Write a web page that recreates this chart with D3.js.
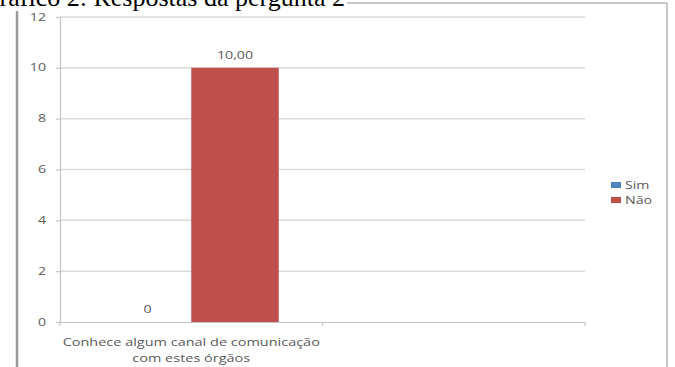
<!DOCTYPE html>
<html>
<head>
<meta charset="utf-8">
<script src="https://cdn.jsdelivr.net/npm/d3@7"></script>
<style>
  html, body { margin: 0; padding: 0; background: #fff; }
  svg { display: block; }
  .lbl { font-family: "Open Sans", "Liberation Sans", sans-serif; fill: #595959; }
</style>
</head>
<body>
<svg id="chart" width="675" height="367"></svg>
<script>
const categories = ['Conhece algum canal de comunicação|com estes órgãos', ''];
const seriesNames = ['Sim', 'Não'];
const seriesColors = ['#4F81BD', '#C0504D'];
const simValues = [0, null];
const naoValues = [10, null];
const valueLabels = [['0', null], ['10,00', null]];
const yTicks = [0, 2, 4, 6, 8, 10, 12];

const W = 675, H = 367;
const plot = { left: 60, right: 585, top: 17, bottom: 322 };
const stretch = 1.42;

const svg = d3.select('#chart');

// outer frame
svg.append('line').attr('x1', 17).attr('x2', 17).attr('y1', 3).attr('y2', H)
  .attr('stroke', '#9a9a9a').attr('stroke-width', 2.5);
svg.append('line').attr('x1', 17).attr('x2', 667).attr('y1', 3).attr('y2', 3)
  .attr('stroke', '#b5b5b5').attr('stroke-width', 1.5);
svg.append('line').attr('x1', 667).attr('x2', 667).attr('y1', 3).attr('y2', H)
  .attr('stroke', '#b5b5b5').attr('stroke-width', 1.5);

const x = d3.scaleBand().domain(d3.range(categories.length))
  .range([plot.left, plot.right]);
const xs = d3.scaleBand().domain(seriesNames).range([0, x.bandwidth()])
  .paddingOuter(0.5);
const y = d3.scaleLinear().domain([0, 12]).range([plot.bottom, plot.top]);

function stretchedText(g, tx, ty, str, size, anchor) {
  return g.append('text').attr('class', 'lbl')
    .attr('transform', `translate(${tx},${ty}) scale(${stretch},1)`)
    .attr('text-anchor', anchor || 'middle')
    .attr('font-size', size)
    .text(str);
}

// gridlines
svg.append('g').selectAll('line').data(yTicks.filter(d => d > 0)).enter().append('line')
  .attr('x1', plot.left).attr('x2', plot.right)
  .attr('y1', d => y(d)).attr('y2', d => y(d))
  .attr('stroke', '#dadada').attr('stroke-width', 1.5);

// y axis
const yAxis = d3.axisLeft(y).tickValues(yTicks).tickSize(4).tickFormat('');
const yg = svg.append('g').attr('transform', `translate(${plot.left},0)`).call(yAxis);
yg.selectAll('path, line').attr('stroke', '#c4c4c4').attr('stroke-width', 1.2);
yTicks.forEach(t => stretchedText(svg, 46, y(t) + 3.5, String(t), 10, 'end'));

// x axis
const xg = svg.append('g').attr('transform', `translate(0,${plot.bottom})`)
  .call(d3.axisBottom(x).tickSize(0).tickFormat(''));
xg.selectAll('path').attr('stroke', '#c4c4c4').attr('stroke-width', 1.2);
svg.append('g').selectAll('line').data(d3.range(categories.length + 1)).enter().append('line')
  .attr('x1', i => plot.left + i * x.bandwidth()).attr('x2', i => plot.left + i * x.bandwidth())
  .attr('y1', plot.bottom).attr('y2', plot.bottom + 4)
  .attr('stroke', '#c4c4c4').attr('stroke-width', 1.2);

categories.forEach((c, i) => {
  c.split('|').forEach((line, j) => {
    if (line) stretchedText(svg, x(i) + x.bandwidth() / 2, 346 + j * 16, line, 10.2);
  });
});

// bars
const series = [simValues, naoValues];
series.forEach((vals, s) => {
  vals.forEach((v, i) => {
    if (v === null) return;
    const bx = x(i) + xs(seriesNames[s]);
    svg.append('rect')
      .attr('x', bx).attr('width', xs.bandwidth())
      .attr('y', y(v)).attr('height', y(0) - y(v))
      .attr('fill', seriesColors[s]);
    const lab = valueLabels[s][i];
    if (lab) stretchedText(svg, bx + xs.bandwidth() / 2, y(v) - 9, lab, 10);
  });
});

// legend
const legend = svg.append('g');
seriesNames.forEach((n, i) => {
  legend.append('rect').attr('x', 611).attr('y', 182 + i * 15).attr('width', 10).attr('height', 6)
    .attr('fill', seriesColors[i]);
  stretchedText(legend, 625, 189 + i * 15, n, 10, 'start');
});

// title, clipped at top
svg.append('rect').attr('x', 0).attr('y', 0).attr('width', 347).attr('height', 11).attr('fill', '#fff');
svg.append('text')
  .attr('x', 345).attr('y', 6)
  .attr('text-anchor', 'end')
  .attr('font-family', '"Liberation Serif", "Times New Roman", serif')
  .attr('font-size', 26)
  .attr('fill', '#000')
  .text('Gráfico 2: Respostas da pergunta 2');
</script>
</body>
</html>
